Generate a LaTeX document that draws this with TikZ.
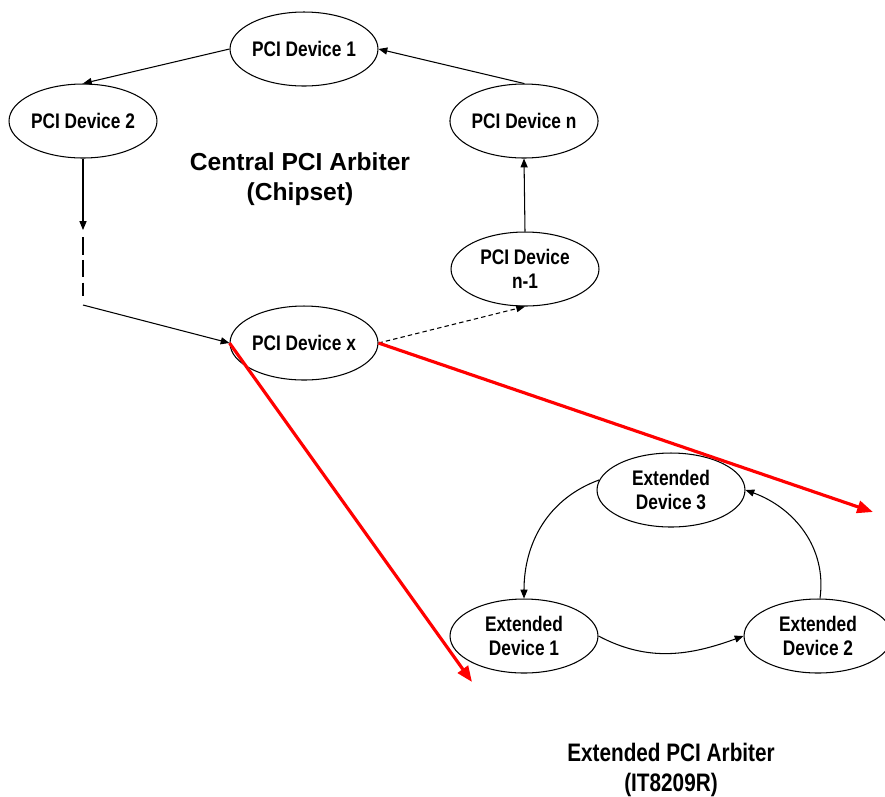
\documentclass[tikz,border=0pt]{standalone}
\usepackage{fontspec}
\setmainfont{Liberation Sans}
\newfontfamily\narrowsf[FakeStretch=0.82]{Liberation Sans}
\definecolor{linkred}{RGB}{255, 0, 0}
\usepackage{tikz}
\usetikzlibrary{shapes, arrows.meta, positioning}

\begin{document}
\begin{tikzpicture}[
  x=0.02cm, y=-0.02cm,
  dev/.style={draw, ellipse, line width=0.6pt, minimum width=2.96cm, minimum height=1.48cm, inner sep=0pt, align=center, font=\narrowsf\bfseries\fontsize{12}{13.7}\selectfont},
  arr/.style={line width=0.6pt, -{Triangle[length=5pt, width=4pt]}},
  redarr/.style={draw=linkred, line width=1.8pt, -{Triangle[length=9pt, width=7pt]}},
  title/.style={align=center, font=\bfseries\fontsize{14}{17}\selectfont}
]
  \useasboundingbox (0, 0) rectangle (885, 796);

  % central arbiter ring
  \node[dev] (d1) at (304, 49) {PCI Device 1};
  \node[dev] (d2) at (83, 121) {PCI Device 2};
  \node[dev] (dn) at (524, 121) {PCI Device n};
  \node[dev] (dn1) at (525, 269) {PCI Device\\n-1};
  \node[dev] (dx) at (304, 343) {PCI Device x};
  \node[title] (central) at (300, 179) {Central PCI Arbiter\\(Chipset)};

  \coordinate (gapa) at (83, 230);
  \coordinate (gapb) at (83, 237);
  \coordinate (gapc) at (83, 296);
  \coordinate (gapd) at (83, 305);

  \draw[arr] (d1.west) -- (d2.north);
  \draw[arr] (dn.north) -- (d1.east);
  \draw[arr] (dn1.north) -- (dn.south);
  \draw[arr] (d2.south) -- (gapa);
  \draw[line width=1.2pt, dash pattern=on 10pt off 3pt] (gapb) -- (gapc);
  \draw[arr] (gapd) -- (dx.west);
  \draw[arr, dash pattern=on 2.5pt off 1.8pt] (dx.east) -- (dn1.south);

  % extended arbiter ring
  \node[dev] (e3) at (671, 490) {Extended\\Device 3};
  \node[dev] (e1) at (524, 636) {Extended\\Device 1};
  \node[dev] (e2) at (818, 636) {Extended\\Device 2};
  \node[title, font=\narrowsf\bfseries\fontsize{14.4}{17}\selectfont] (ext) at (671, 770) {Extended PCI Arbiter\\(IT8209R)};

  \draw[arr] (e3.172) to[out=200, in=90] (e1.north);
  \draw[arr] (e1.east) to[out=-28, in=200] (e2.west);
  \draw[arr] (e2.87) to[out=82, in=-20] (e3.east);

  % hand-off to the extended arbiter
  \coordinate (redl) at (472, 682);
  \coordinate (redr) at (873, 512);
  \draw[redarr] (dx.west) -- (redl);
  \draw[redarr] (dx.east) -- (redr);
\end{tikzpicture}
\end{document}
